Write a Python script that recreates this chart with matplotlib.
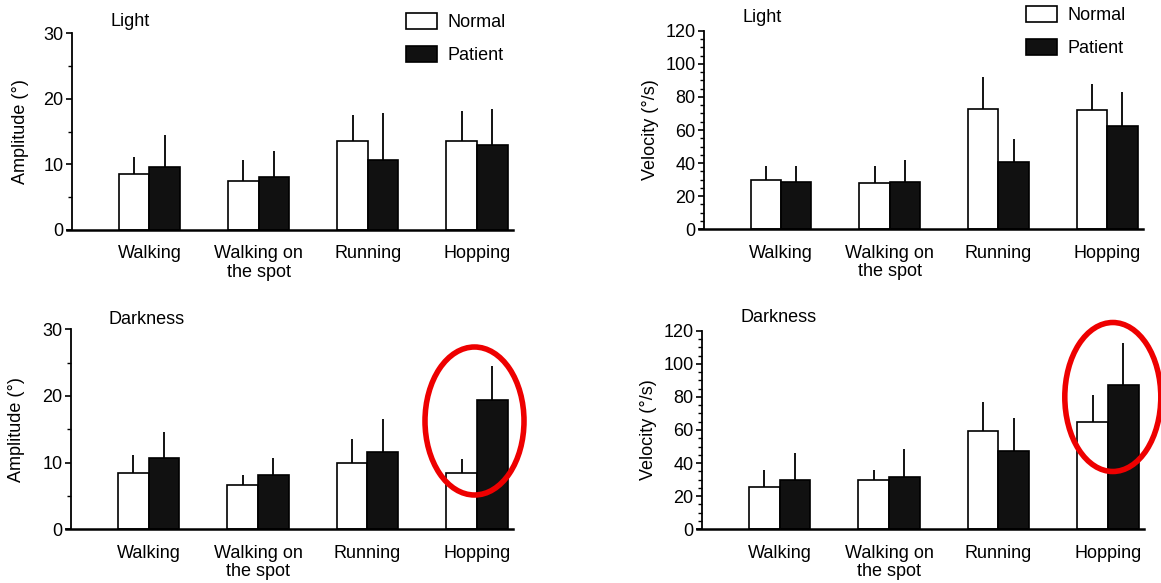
import matplotlib
matplotlib.use("Agg")
import matplotlib.pyplot as plt
from matplotlib.patches import Patch, Ellipse
from matplotlib.ticker import MultipleLocator
import numpy as np

plt.rcParams['font.family'] = ['Liberation Sans', 'DejaVu Sans']

categories = ["Walking", "Walking on\nthe spot", "Running", "Hopping"]
series_names = ["Normal", "Patient"]

# Amplitude (deg), light
amp_light_normal = [8.5, 7.5, 13.6, 13.5]
amp_light_normal_sd = [2.6, 3.2, 4.0, 4.6]
amp_light_patient = [9.6, 8.1, 10.7, 12.9]
amp_light_patient_sd = [4.9, 4.0, 7.1, 5.6]

# Velocity (deg/s), light
vel_light_normal = [29.8, 28.2, 72.5, 72.1]
vel_light_normal_sd = [8.5, 10.1, 19.3, 15.7]
vel_light_patient = [28.4, 28.4, 40.9, 62.4]
vel_light_patient_sd = [9.9, 13.5, 13.5, 20.8]

# Amplitude (deg), darkness
amp_dark_normal = [8.5, 6.6, 10.0, 8.4]
amp_dark_normal_sd = [2.6, 1.5, 3.6, 2.2]
amp_dark_patient = [10.7, 8.1, 11.6, 19.4]
amp_dark_patient_sd = [3.9, 2.6, 4.9, 5.1]

# Velocity (deg/s), darkness
vel_dark_normal = [25.8, 29.8, 59.6, 65.0]
vel_dark_normal_sd = [10.0, 6.0, 17.5, 15.9]
vel_dark_patient = [29.8, 31.4, 47.3, 87.2]
vel_dark_patient_sd = [16.5, 16.9, 19.7, 25.6]

W, H = 1161, 583
fig = plt.figure(figsize=(W / 100, H / 100), dpi=100)
fig.patch.set_facecolor("white")


def px_axes(left, top, width, bottom):
    return fig.add_axes([left / W, 1 - bottom / H, width / W, (bottom - top) / H])


FS = 13
BAR_W = 0.28


def panel(ax, normal, normal_sd, patient, patient_sd, ymax, major, ylabel, title,
          title_xy):
    x = np.arange(len(categories))
    xn = x - BAR_W / 2
    xp = x + BAR_W / 2
    ax.bar(xn, normal, width=BAR_W, color="white", edgecolor="black",
           linewidth=1.2, label=series_names[0], zorder=2)
    ax.bar(xp, patient, width=BAR_W, color="#111111", edgecolor="black",
           linewidth=1.2, label=series_names[1], zorder=2)
    ax.errorbar(xn, normal, yerr=[np.zeros(len(normal)), normal_sd], fmt="none",
                ecolor="black", elinewidth=1.3, capsize=0, zorder=3)
    ax.errorbar(xp, patient, yerr=[np.zeros(len(patient)), patient_sd], fmt="none",
                ecolor="black", elinewidth=1.3, capsize=0, zorder=1)
    ax.set_xlim(-0.755, 3.33)
    ax.set_ylim(0, ymax)
    for s in ("top", "right"):
        ax.spines[s].set_visible(False)
    ax.spines["left"].set_position(("data", -0.71))
    ax.spines["left"].set_linewidth(1.3)
    ax.spines["bottom"].set_linewidth(1.8)
    ax.set_xticks(x)
    ax.set_xticklabels(categories, fontsize=FS, linespacing=1.1)
    ax.tick_params(axis="x", length=0, pad=11)
    ax.yaxis.set_major_locator(MultipleLocator(major))
    ax.yaxis.set_minor_locator(MultipleLocator(5))
    ax.tick_params(axis="y", which="major", length=4, width=1.2, labelsize=FS, pad=2)
    ax.tick_params(axis="y", which="minor", length=3, width=1.0)
    ax.set_ylabel(ylabel, fontsize=FS)
    ax.text(title_xy[0] / W, 1 - title_xy[1] / H, title, transform=fig.transFigure,
            fontsize=FS, ha="left", va="center")
    ax.patch.set_alpha(0)


ax_tl = px_axes(67, 33.3, 446, 230)
panel(ax_tl, amp_light_normal, amp_light_normal_sd, amp_light_patient,
      amp_light_patient_sd, 30, 10, "Amplitude (°)", "Light", (111, 21))
ax_tl.yaxis.set_label_coords(-0.085, 0.5)

ax_tr = px_axes(699, 30.7, 444, 229.3)
panel(ax_tr, vel_light_normal, vel_light_normal_sd, vel_light_patient,
      vel_light_patient_sd, 120, 20, "Velocity (°/s)", "Light", (742, 18))
ax_tr.yaxis.set_label_coords(-0.090, 0.5)

ax_bl = px_axes(66, 329.3, 447, 529.3)
panel(ax_bl, amp_dark_normal, amp_dark_normal_sd, amp_dark_patient,
      amp_dark_patient_sd, 30, 10, "Amplitude (°)", "Darkness", (108, 320))
ax_bl.yaxis.set_label_coords(-0.091, 0.5)

ax_br = px_axes(697, 330.7, 447, 529.3)
panel(ax_br, vel_dark_normal, vel_dark_normal_sd, vel_dark_patient,
      vel_dark_patient_sd, 120, 20, "Velocity (°/s)", "Darkness", (741, 318))
ax_br.yaxis.set_label_coords(-0.090, 0.5)

handles = [Patch(facecolor="white", edgecolor="black", linewidth=1.2),
           Patch(facecolor="#111111", edgecolor="black", linewidth=1.2)]
for ax, (lx, ly) in ((ax_tl, (406, 13)), (ax_tr, (1026, 6))):
    ax.legend(handles, series_names, loc="upper left",
              bbox_to_anchor=(lx / W, 1 - ly / H), bbox_transform=fig.transFigure,
              frameon=False, fontsize=FS, borderpad=0, borderaxespad=0,
              handlelength=1.7, handleheight=1.0, handletextpad=0.6,
              labelspacing=0.8)

# Highlight rings around the hopping results in darkness
for cx, cy, ew, eh in ((474.5, 421, 99, 148), (1112.8, 397, 96, 149)):
    fig.add_artist(Ellipse((cx / W, 1 - cy / H), ew / W, eh / H,
                           transform=fig.transFigure, fill=False,
                           edgecolor="#ee0000", linewidth=4.0, zorder=10))

fig.savefig("out.png", dpi=100, facecolor="white")
